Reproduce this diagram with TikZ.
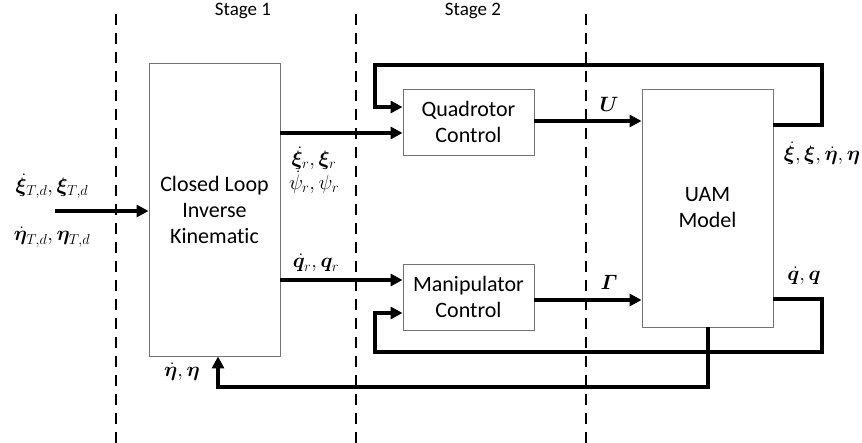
\documentclass[tikz,border=0pt]{standalone}
\usepackage{amsmath}
\usepackage{fontspec}
\usepackage{bm}
\setmainfont[Ligatures=NoCommon]{Carlito}
\usetikzlibrary{arrows.meta}
\begin{document}
\begin{tikzpicture}[x=1pt,y=-1pt,
  blockbox/.style={draw=black!55, line width=0.9pt, fill=white, align=center, inner sep=0pt,
    font=\fontsize{22}{26}\selectfont},
  flow/.style={line width=3.8pt, -{Triangle[length=12pt,width=12pt]}},
  stageline/.style={line width=2pt, dash pattern=on 11pt off 8pt},
  lab/.style={inner sep=0pt, font=\fontsize{20}{24}\selectfont},
  stagelab/.style={inner sep=0pt, font=\fontsize{19}{22}\selectfont}]
\useasboundingbox (0,0) rectangle (862,443);
% stage separators
\coordinate (d1t) at (116,14); \coordinate (d1b) at (116,443);
\coordinate (d2t) at (356,14); \coordinate (d2b) at (356,443);
\coordinate (d3t) at (586,14); \coordinate (d3b) at (586,443);
\draw[stageline] (d1t) -- (d1b);
\draw[stageline] (d2t) -- (d2b);
\draw[stageline] (d3t) -- (d3b);
\node[stagelab] (s1) at (243,11) {Stage 1};
\node[stagelab] (s2) at (473,11) {Stage 2};
% blocks
\node[blockbox, minimum width=131pt, minimum height=293pt] (clik) at (214.5,209.5) {Closed Loop\\Inverse\\Kinematic};
\node[blockbox, minimum width=131pt, minimum height=66pt] (quad) at (468.5,122) {Quadrotor\\Control};
\node[blockbox, minimum width=131pt, minimum height=66pt] (manip) at (468.5,297) {Manipulator\\Control};
\node[blockbox, minimum width=131pt, minimum height=238pt] (uam) at (707.5,208) {UAM\\Model};
% input
\coordinate (in) at (55,211);
\draw[flow] (in) -- (in -| clik.west);
% CLIK outputs
\coordinate (c1) at (280,133);
\coordinate (c2) at (280,280);
\draw[flow] (c1 -| clik.east) -- (c1 -| quad.west);
\draw[flow] (c2 -| clik.east) -- (c2 -| manip.west);
% controls to UAM
\coordinate (u1) at (600,121);
\coordinate (u2) at (600,300);
\draw[flow] (u1 -| quad.east) -- (u1 -| uam.west);
\draw[flow] (u2 -| manip.east) -- (u2 -| uam.west);
% top feedback
\coordinate (t0) at (773,125);
\coordinate (t1) at (822,125);
\coordinate (t2) at (822,65);
\coordinate (t3) at (375,65);
\coordinate (t4) at (375,107);
\draw[flow] (t0 -| uam.east) -- (t1) -- (t2) -- (t3) -- (t4) -- (t4 -| quad.west);
% bottom feedback
\coordinate (b0) at (773,299);
\coordinate (b1) at (822,299);
\coordinate (b2) at (822,352);
\coordinate (b3) at (375,352);
\coordinate (b4) at (375,313);
\draw[flow] (b0 -| uam.east) -- (b1) -- (b2) -- (b3) -- (b4) -- (b4 -| manip.west);
% feedback to CLIK
\coordinate (e0) at (708,387);
\coordinate (e1) at (218,387);
\draw[flow] (uam.south -| e0) -- (e0) -- (e1) -- (e1 |- clik.south);
% labels
\node[lab] (l1) at (52,186) {$\dot{\bm{\xi}}_{T,d},\bm{\xi}_{T,d}$};
\node[lab] (l2) at (52,237) {$\dot{\bm{\eta}}_{T,d},\bm{\eta}_{T,d}$};
\node[lab] (l3) at (314,158) {$\dot{\bm{\xi}}_{r},\bm{\xi}_{r}$};
\node[lab] (l4) at (314,182) {$\dot{\psi}_{r},\psi_{r}$};
\node[lab] (l5) at (316,263) {$\dot{\bm{q}}_{r},\bm{q}_{r}$};
\node[lab] (l6) at (609,104) {$\bm{U}$};
\node[lab] (l7) at (609,282) {$\bm{\varGamma}$};
\node[lab] (l8) at (822,153) {$\dot{\bm{\xi}},\bm{\xi},\dot{\bm{\eta}},\bm{\eta}$};
\node[lab] (l9) at (804,276) {$\dot{\bm{q}},\bm{q}$};
\node[lab] (l10) at (182,372) {$\dot{\bm{\eta}},\bm{\eta}$};
\end{tikzpicture}
\end{document}
